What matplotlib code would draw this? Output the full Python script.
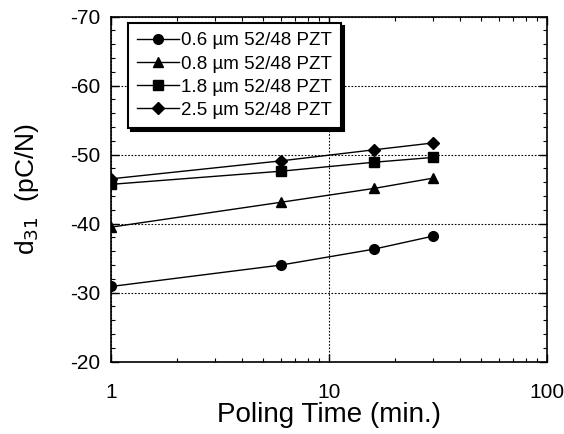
import matplotlib

matplotlib.use("Agg")
import matplotlib.pyplot as plt
from matplotlib.ticker import LogLocator, MultipleLocator, NullFormatter

plt.rcParams["font.family"] = ["Liberation Sans", "DejaVu Sans"]
plt.rcParams["axes.unicode_minus"] = False

poling_time = [1, 6, 16, 30]
d31_06 = [-30.9, -34.0, -36.3, -38.2]
d31_08 = [-39.5, -43.1, -45.1, -46.6]
d31_18 = [-45.7, -47.6, -48.9, -49.6]
d31_25 = [-46.5, -49.1, -50.7, -51.7]
labels = ["0.6 \u00b5m 52/48 PZT", "0.8 \u00b5m 52/48 PZT",
          "1.8 \u00b5m 52/48 PZT", "2.5 \u00b5m 52/48 PZT"]
markers = ["o", "^", "s", "D"]

fig = plt.figure(figsize=(5.64, 4.34), dpi=100)
ax = fig.add_axes([0.197, 0.1666, 0.773, 0.795])

for values, label, marker in zip([d31_06, d31_08, d31_18, d31_25], labels, markers):
    size = 6 if marker == "D" else 7
    ax.plot(poling_time, values, color="black", lw=1, marker=marker,
            markersize=size, label=label)

ax.set_xscale("log")
ax.set_xlim(1, 100)
ax.set_ylim(-20, -70)
ax.yaxis.set_major_locator(MultipleLocator(10))
ax.yaxis.set_minor_locator(MultipleLocator(2))
ax.xaxis.set_minor_locator(LogLocator(subs=range(2, 10)))
ax.xaxis.set_minor_formatter(NullFormatter())
ax.set_xticks([1, 10, 100], ["1", "10", "100"])

ax.tick_params(which="both", direction="in", top=True, right=True, labelsize=15)
ax.tick_params(which="major", length=6, width=1)
ax.tick_params(which="minor", length=3, width=0.8)
ax.tick_params(axis="x", which="major", pad=15)
ax.tick_params(axis="y", which="major", pad=8)
ax.grid(True, which="major", color="black", linestyle=(0, (1.5, 1.5)), lw=0.8)
for spine in ax.spines.values():
    spine.set_linewidth(1.2)

ax.set_xlabel("Poling Time (min.)", fontsize=20, labelpad=0)
ax.set_ylabel("d$_{31}$  (pC/N)", fontsize=19, labelpad=21)

leg = ax.legend(loc="upper left", bbox_to_anchor=(0.039, 0.982), fontsize=13.5,
                fancybox=False, shadow={"color": "black", "alpha": 1},
                handlelength=2.2, handletextpad=0.1, borderpad=0.5,
                labelspacing=0.32, framealpha=1, borderaxespad=0)
leg.get_frame().set_edgecolor("black")
leg.get_frame().set_linewidth(1.5)

fig.savefig("out.png", dpi=100)
plt.close(fig)
